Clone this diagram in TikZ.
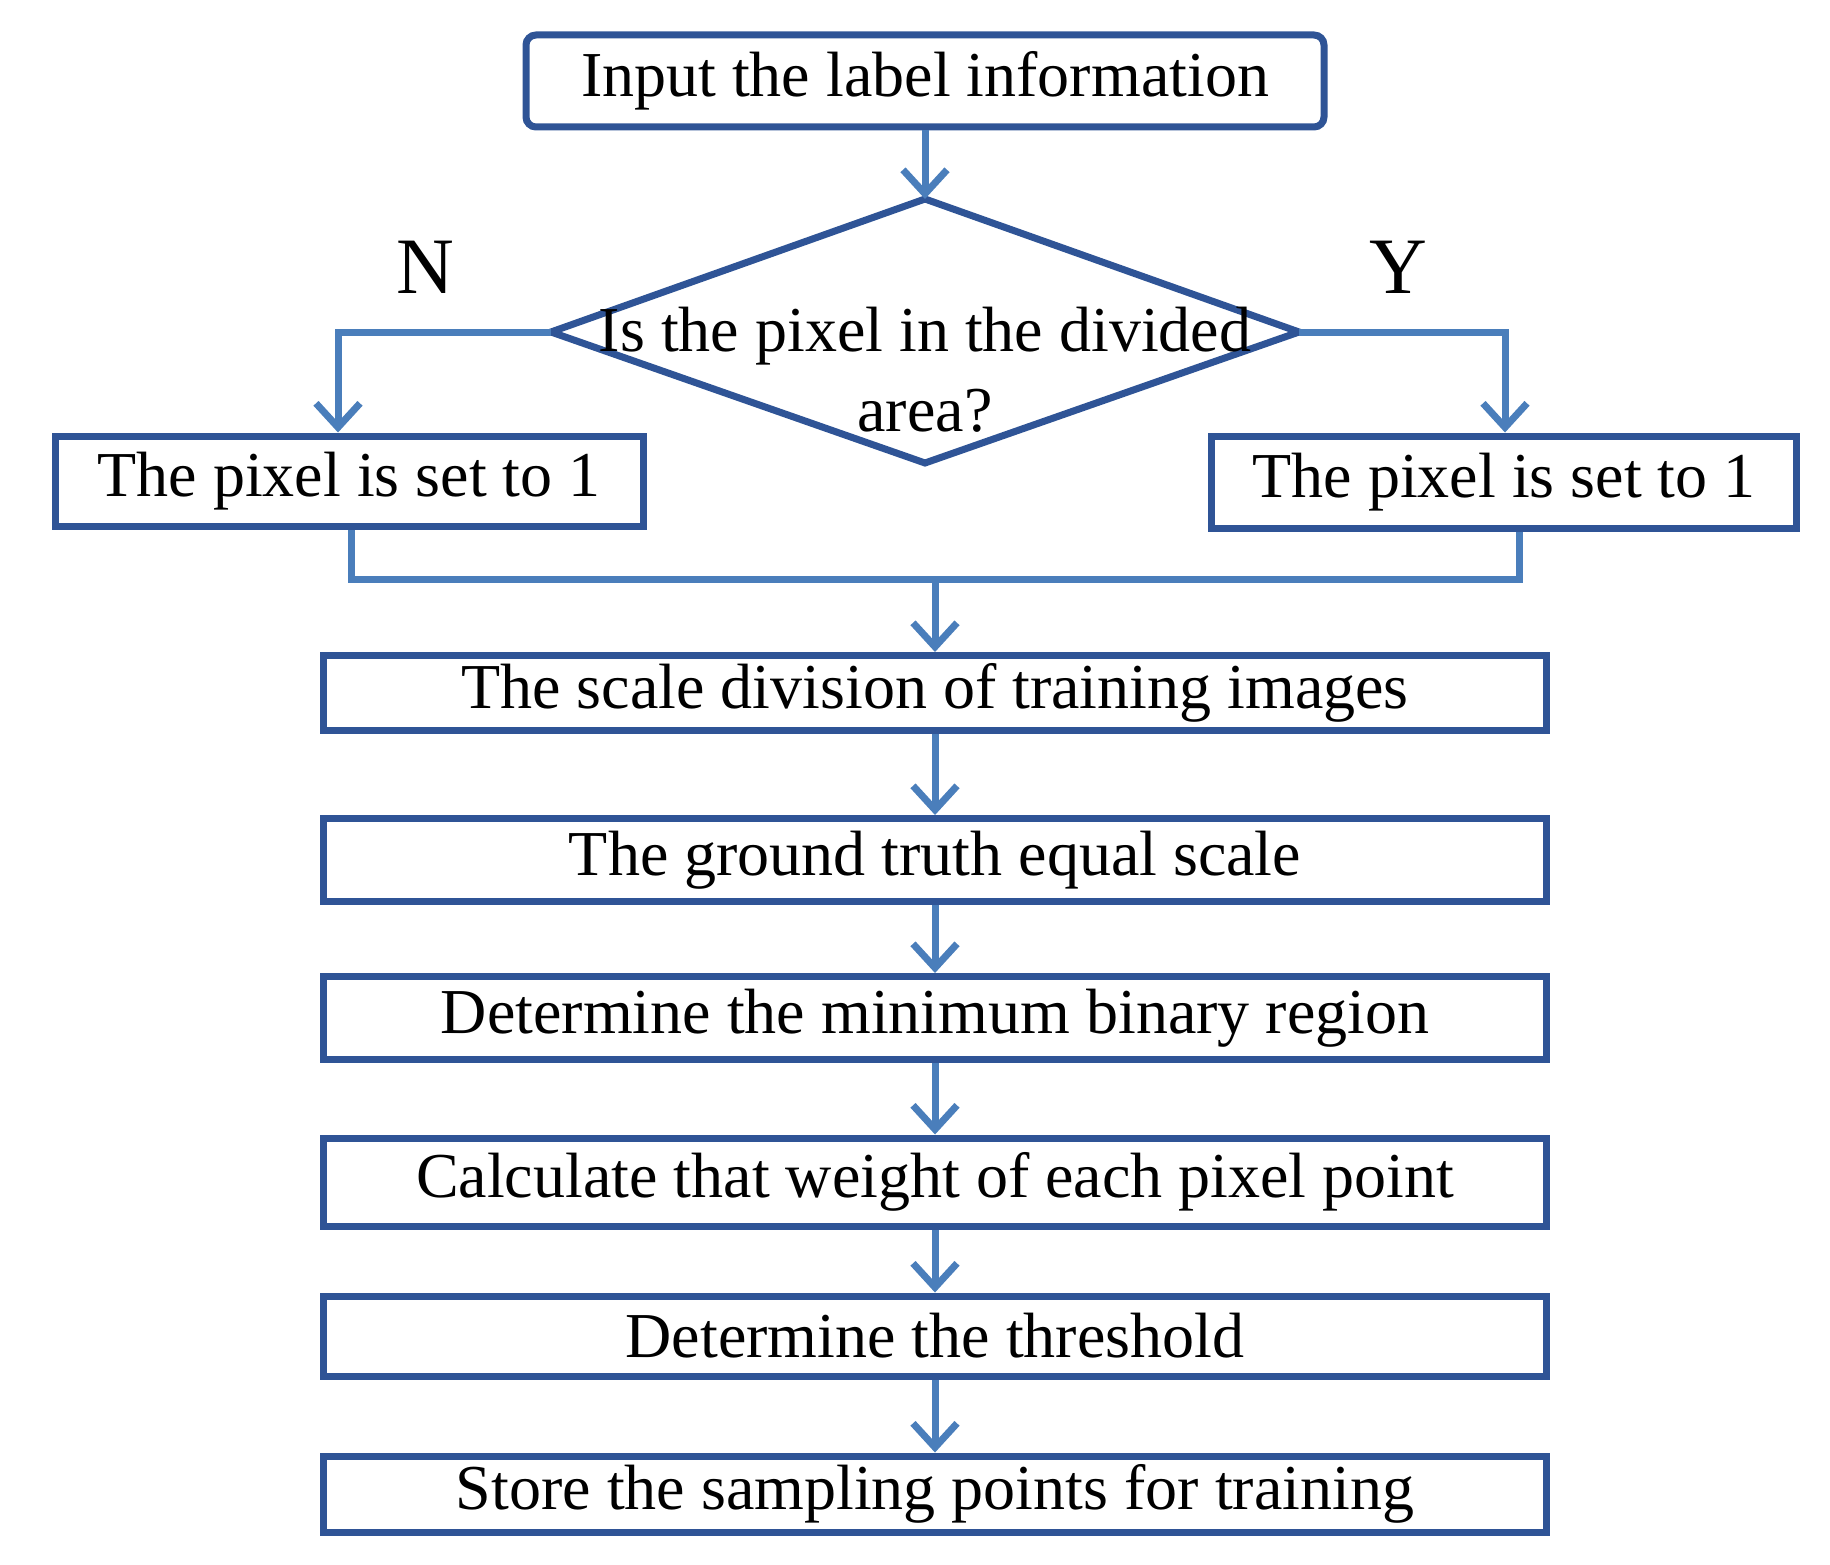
\documentclass[tikz,border=0pt]{standalone}
\usepackage{fontspec}
\setmainfont{Liberation Serif}
\usetikzlibrary{arrows.meta}
\definecolor{bord}{HTML}{2F5496}
\definecolor{arr}{HTML}{4A7EBB}
\begin{document}
\begin{tikzpicture}[x=1pt,y=-1pt,
  box/.style={draw=bord,line width=7pt,minimum height=#1,inner sep=0pt,font=\fontsize{64}{72}\selectfont,anchor=center},
  conn/.style={draw=arr,line width=7pt},
  ar/.style={conn,-{Straight Barb[length=24pt,width=44pt,line width=7pt]}}]
\useasboundingbox (0,0) rectangle (1830,1565);
\node[box=92pt,minimum width=798pt,rounded corners=10pt] (top) at (925,81) {Input the label information};
\coordinate (dt) at (925,199); \coordinate (db) at (925,463);
\coordinate (dl) at (551,332); \coordinate (dr) at (1299,332);
\draw[bord,line width=7pt,line join=miter] (dt)--(dr)--(db)--(dl)--cycle;
\node[align=center,font=\fontsize{64}{80}\selectfont] (dtext) at (925,370) {Is the pixel in the divided\\area?};
\node[box=90pt,minimum width=588pt] (L) at (349,481) {The pixel is set to 1};
\node[box=92pt,minimum width=585pt] (R) at (1504,482) {The pixel is set to 1};
\node[font=\fontsize{80}{88}\selectfont] (N) at (425,267) {N};
\node[font=\fontsize{80}{88}\selectfont] (Y) at (1398,267) {Y};
\node[box=75pt,minimum width=1223pt] (b1) at (935,693) {The scale division of training images};
\node[box=83pt,minimum width=1223pt] (b2) at (935,860) {The ground truth equal scale};
\node[box=83pt,minimum width=1223pt] (b3) at (935,1018) {Determine the minimum binary region};
\node[box=88pt,minimum width=1223pt] (b4) at (935,1182) {Calculate that weight of each pixel point};
\node[box=80pt,minimum width=1223pt] (b5) at (935,1336) {Determine the threshold};
\node[box=76pt,minimum width=1223pt] (b6) at (935,1494) {Store the sampling points for training};
\draw[ar] (top.south) -- (dt);
\draw[ar] (dl) -| (338,0|-L.north);
\draw[ar] (dr) -| (1505,0|-R.north);
\coordinate (m) at (935,579);
\draw[conn,line join=miter] (351,0|-L.south) |- (m) -| (1519,0|-R.south);
\draw[ar] (m) -- (b1.north);
\draw[ar] (b1.south) -- (b2.north);
\draw[ar] (b2.south) -- (b3.north);
\draw[ar] (b3.south) -- (b4.north);
\draw[ar] (b4.south) -- (b5.north);
\draw[ar] (b5.south) -- (b6.north);
\end{tikzpicture}
\end{document}
